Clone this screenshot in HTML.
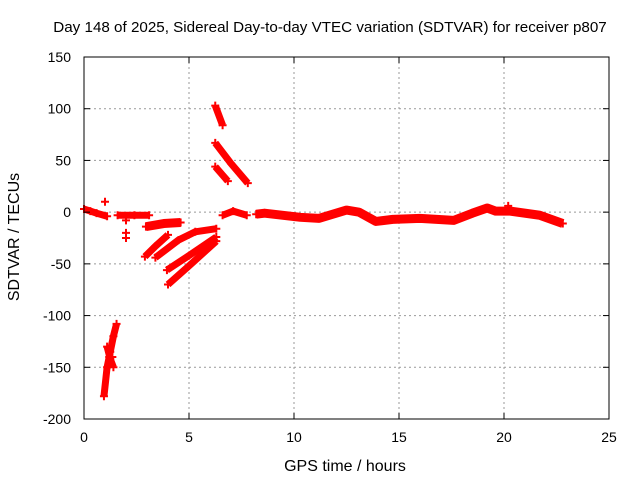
<!DOCTYPE html>
<html><head><meta charset="utf-8"><style>
body{margin:0;background:#fff}
svg text{font-family:"Liberation Sans",sans-serif;font-size:14px;fill:#000}
</style></head><body>
<svg width="640" height="480" xmlns="http://www.w3.org/2000/svg">
<rect width="640" height="480" fill="#fff"/>
<g id="grid"></g>
<g id="marks"></g>
<rect x="84" y="57" width="525" height="362" fill="none" stroke="#000"/>
<g id="ticks"></g>
<text x="330" y="32" text-anchor="middle" style="font-size:15.2px">Day 148 of 2025, Sidereal Day-to-day VTEC variation (SDTVAR) for receiver p807</text>
<text x="345" y="471" text-anchor="middle" style="font-size:16px">GPS time / hours</text>
<text transform="translate(19,237) rotate(-90)" text-anchor="middle" style="font-size:16px">SDTVAR / TECUs</text>
</svg>
<script>
const xTicks=[0,5,10,15,20,25];
const yTicks=[150,100,50,0,-50,-100,-150,-200];
const segA=[[0,3],[0.3,1],[0.6,-1],[1.1,-4]];
const segB=[[0.95,-178],[1.1,-150],[1.25,-135],[1.4,-120],[1.55,-108]];
const segB2=[[1.1,-130],[1.25,-142],[1.4,-150]];
const segC=[[1.6,-3],[2.4,-3],[3.1,-3]];
const segD=[[2.95,-14],[3.8,-11],[4.6,-10]];
const segE=[[2.9,-43],[3.4,-33],[4.0,-22]];
const segF=[[3.4,-44],[4.5,-27],[5.3,-19],[6.3,-16]];
const segG=[[3.95,-56],[5.0,-42],[6.3,-24]];
const segH=[[4.0,-70],[5.0,-52],[6.3,-28]];
const segI=[[6.25,103],[6.6,84]];
const segJ=[[6.25,67],[7.0,47],[7.8,28]];
const segK=[[6.25,44],[6.85,30]];
const segL=[[6.6,-3],[7.1,1],[7.75,-3]];
const segM=[[8.2,-2],[8.6,-1],[10.3,-5],[11.2,-6],[12.5,2],[13.1,0],[13.9,-9],[14.7,-7],[16,-6],[17.6,-8],[18.5,-1],[19.2,4],[19.6,1],[20.3,1],[21.7,-3],[22.8,-11]];
const outliers=[[1.0,10],[2.0,-8],[2.0,-20],[2.0,-25],[1.2,-140],[1.35,-140],[20.2,6],[18.9,2]];
const segments=[segA,segB,segB2,segC,segD,segE,segF,segG,segH,segI,segJ,segK,segL,segM];
const X=h=>84+h*21, Y=v=>57+(150-v)*362/350;
const NS="http://www.w3.org/2000/svg";
const grid=document.getElementById('grid'),ticks=document.getElementById('ticks'),marks=document.getElementById('marks');
function mk(t,a,p){const e=document.createElementNS(NS,t);for(const k in a)e.setAttribute(k,a[k]);p.appendChild(e);return e;}
xTicks.forEach(t=>{const x=X(t);
 if(t>0&&t<25){const g=mk('line',{x1:x,x2:x,y1:57,y2:419,stroke:'#999','stroke-dasharray':'2,3'},grid);}
 mk('line',{x1:x,x2:x,y1:419,y2:413,stroke:'#000'},ticks);mk('line',{x1:x,x2:x,y1:57,y2:63,stroke:'#000'},ticks);
 const tx=mk('text',{x:x,y:442,'text-anchor':'middle'},ticks);tx.textContent=t;
 });
yTicks.forEach(t=>{const y=Y(t);
 if(t<150&&t>-200){const g=mk('line',{x1:84,x2:609,y1:y,y2:y,stroke:'#999','stroke-dasharray':'2,3'},grid);}
 mk('line',{x1:84,x2:90,y1:y,y2:y,stroke:'#000'},ticks);mk('line',{x1:603,x2:609,y1:y,y2:y,stroke:'#000'},ticks);
 const tx=mk('text',{x:71,y:y+5,'text-anchor':'end'},ticks);tx.textContent=t;
 });
segments.forEach(s=>{const w=(s===segM||s===segD)?9:7;
 const pl=mk('polyline',{points:s.map(p=>X(p[0])+','+Y(p[1])).join(' '),fill:'none',stroke:'#f00','stroke-width':w,'stroke-linejoin':'round'},marks);
 
 s.forEach(p=>{const x=X(p[0]),y=Y(p[1]);mk('path',{d:`M${x-4},${y}h8M${x},${y-4}v8`,stroke:'#f00','stroke-width':2},marks);});});
outliers.forEach(p=>{const x=X(p[0]),y=Y(p[1]);const e=mk('path',{d:`M${x-4},${y}h8M${x},${y-4}v8`,stroke:'#f00','stroke-width':2},marks);
 });
</script>
</body></html>
